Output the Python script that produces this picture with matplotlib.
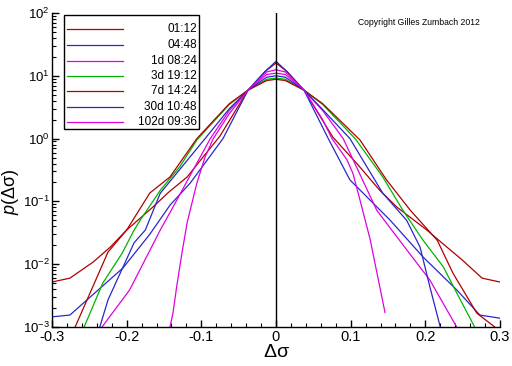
import matplotlib
matplotlib.use("Agg")
import matplotlib.pyplot as plt
from matplotlib.ticker import MultipleLocator, LogLocator
from matplotlib.patches import Rectangle

plt.rcParams['font.family'] = ['Liberation Sans', 'DejaVu Sans']
plt.rcParams['mathtext.fontset'] = 'custom'
plt.rcParams['mathtext.rm'] = 'Liberation Sans'
plt.rcParams['mathtext.it'] = 'Liberation Sans:italic'

labels = ['01:12', '04:48', '1d 08:24', '3d 19:12', '7d 14:24', '30d 10:48', '102d 09:36']
colors = ['#b00000', '#2828c8', '#e000e0', '#00b400', '#b00000', '#2828c8', '#e000e0']

# 01:12
x_a = [-0.300, -0.276, -0.245, -0.222, -0.200, -0.165, -0.145, -0.119, -0.100, -0.075, -0.0375,
       -0.015, 0.0, 0.015, 0.0375, 0.076, 0.110, 0.139, 0.162, 0.202, 0.226, 0.249, 0.276, 0.300]
p_a = [0.0052, 0.006, 0.0108, 0.0187, 0.035, 0.081, 0.136, 0.245, 0.47, 1.1, 5.9,
       11.6, 16.0, 11.6, 5.9, 1.06, 0.38, 0.15, 0.081, 0.035, 0.020, 0.0118, 0.006, 0.0052]
# 04:48
x_b = [-0.300, -0.276, -0.205, -0.169, -0.142, -0.115, -0.071, -0.0375, -0.015, 0.0, 0.015,
       0.0375, 0.070, 0.099, 0.153, 0.197, 0.242, 0.273, 0.300]
p_b = [0.00145, 0.00155, 0.0087, 0.03, 0.087, 0.195, 1.0, 5.9, 11.6, 17.0, 11.6,
       5.9, 1.0, 0.22, 0.05, 0.013, 0.0039, 0.00155, 0.00138]
# 1d 08:24
x_f = [-0.233, -0.196, -0.155, -0.138, -0.111, -0.088, -0.0625, -0.0375, -0.0125, 0.0, 0.0125,
       0.0375, 0.0625, 0.090, 0.135, 0.175, 0.206, 0.242]
p_f = [0.001, 0.0039, 0.035, 0.081, 0.316, 1.0, 2.8, 5.9, 10.5, 11.0, 10.5,
       5.9, 2.8, 1.0, 0.072, 0.017, 0.0056, 0.001]
# 3d 19:12
x_d = [-0.257, -0.232, -0.206, -0.190, -0.182, -0.155, -0.129, -0.106, -0.0625, -0.0375, -0.0125,
       0.0, 0.0125, 0.0375, 0.0625, 0.106, 0.143, 0.170, 0.197, 0.224, 0.242, 0.266]
p_d = [0.001, 0.005, 0.015, 0.035, 0.05, 0.15, 0.355, 0.95, 3.5, 5.9, 8.8,
       9.2, 8.8, 5.9, 3.5, 1.0, 0.245, 0.072, 0.024, 0.0091, 0.0035, 0.001]
# 7d 14:24
x_c = [-0.269, -0.225, -0.200, -0.169, -0.142, -0.106, -0.0625, -0.0375, -0.0125, 0.0, 0.0125,
       0.0375, 0.0625, 0.1125, 0.148, 0.180, 0.216, 0.237, 0.269, 0.293]
p_c = [0.001, 0.0156, 0.035, 0.136, 0.245, 1.0, 3.6, 5.9, 8.4, 8.8, 8.4,
       5.9, 3.6, 0.95, 0.22, 0.072, 0.024, 0.0072, 0.00166, 0.001]
# 30d 10:48
x_e = [-0.236, -0.225, -0.190, -0.175, -0.155, -0.095, -0.0625, -0.0375, -0.0125, 0.0, 0.0125,
       0.0375, 0.0625, 0.099, 0.143, 0.175, 0.193, 0.206, 0.220]
p_e = [0.001, 0.0027, 0.022, 0.035, 0.135, 1.0, 3.0, 5.9, 9.5, 10.0, 9.5,
       5.9, 2.9, 1.0, 0.135, 0.05, 0.0186, 0.0044, 0.001]
# 102d 09:36
x_g = [-0.142, -0.138, -0.133, -0.126, -0.119, -0.106, -0.095, -0.084, -0.0625, -0.0375, -0.0125,
       0.0, 0.0125, 0.0375, 0.0625, 0.075, 0.095, 0.103, 0.1125, 0.126, 0.146]
p_g = [0.001, 0.00166, 0.0044, 0.015, 0.046, 0.195, 0.51, 1.0, 2.5, 5.9, 11.5,
       12.5, 11.5, 5.9, 2.0, 1.0, 0.46, 0.28, 0.105, 0.025, 0.0017]

series = [(x_a, p_a), (x_b, p_b), (x_f, p_f), (x_d, p_d), (x_c, p_c), (x_e, p_e), (x_g, p_g)]

W, H = 512, 366
fig = plt.figure(figsize=(W / 100, H / 100), dpi=100)
ax = fig.add_axes([52 / W, 1 - 327 / H, 448 / W, 314 / H])

for (xs, ps), lab, col in zip(series, labels, colors):
    ax.plot(xs, ps, color=col, lw=0.9, label=lab)

ax.axvline(0, color='black', lw=1.0)
ax.set_yscale('log')
ax.set_xlim(-0.3, 0.3)
ax.set_ylim(1e-3, 1e2)

for s in ['top', 'right']:
    ax.spines[s].set_visible(False)
for s in ['left', 'bottom']:
    ax.spines[s].set_linewidth(1.0)

ax.set_xticks([-0.3, -0.2, -0.1, 0, 0.1, 0.2, 0.3])
ax.set_xticklabels(['-0.3', '-0.2', '-0.1', '0', '0.1', '0.2', '0.3'])
ax.xaxis.set_minor_locator(MultipleLocator(0.02))
ax.yaxis.set_major_locator(LogLocator(base=10, numticks=10))
ax.yaxis.set_minor_locator(LogLocator(base=10, subs=range(2, 10), numticks=10))
ax.tick_params(which='both', direction='in', top=False, right=False)
ax.tick_params(axis='x', labelsize=10.5, pad=2)
ax.tick_params(axis='y', labelsize=9.5, pad=1.5)
ax.tick_params(which='major', length=5, width=1)
ax.tick_params(which='minor', length=3, width=0.8)

ax.set_xlabel(r'$\mathrm{\Delta\sigma}$', fontsize=14, labelpad=0)
ax.set_ylabel(r'$p(\mathrm{\Delta\sigma})$', fontsize=13)
ax.yaxis.set_label_coords(-0.07, 0.43)


# legend drawn by hand in pixel-based axes fractions (tecplot style, right aligned text)
def fx(px):
    return (px - 52) / 448


def fy(py):
    return (327 - py) / 314


ax.add_patch(Rectangle((fx(64), fy(129)), fx(199) - fx(64), fy(15) - fy(129),
                       transform=ax.transAxes, fill=True, facecolor='white',
                       edgecolor='black', lw=1.0, zorder=5, clip_on=False))
row_y = [29, 45, 61, 76, 91, 107, 122]
for ry, lab, col in zip(row_y, labels, colors):
    ax.plot([fx(67), fx(123)], [fy(ry), fy(ry)], color=col, lw=0.9,
            transform=ax.transAxes, zorder=6, clip_on=False)
    ax.text(fx(197), fy(ry), lab, transform=ax.transAxes, fontsize=8.5,
            ha='right', va='center', zorder=6)

ax.text(0.82, 0.985, 'Copyright Gilles Zumbach 2012', transform=ax.transAxes,
        fontsize=6.2, ha='center', va='top')

fig.savefig('out.png', dpi=100)
